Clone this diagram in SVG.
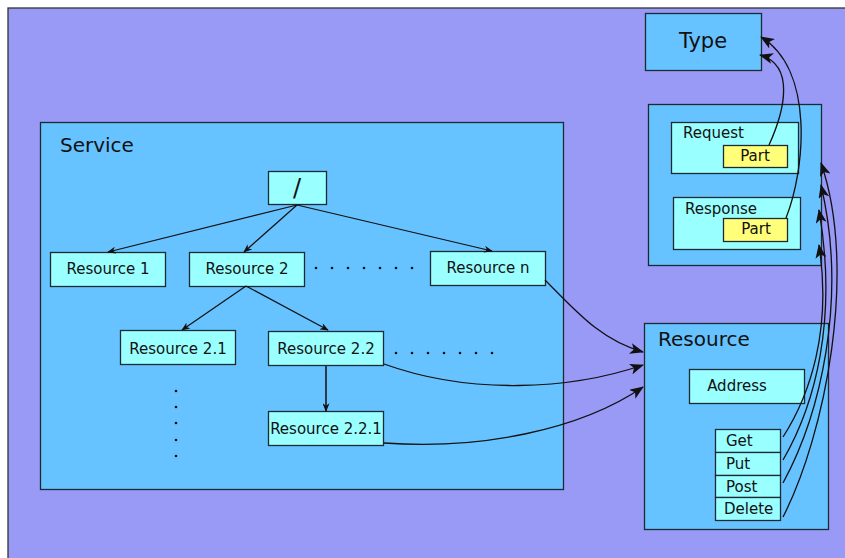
<svg xmlns="http://www.w3.org/2000/svg" width="845" height="558" viewBox="0 0 845 558">
<style>
text{font-family:"DejaVu Sans","Liberation Sans",sans-serif;fill:#111}
.box{stroke:#1e2a33;stroke-width:1.3}
.cy{fill:#99ffff}
.bl{fill:#66c3ff}
.yl{fill:#ffff7a}
.t{font-size:15px}
.big{font-size:20px}
.c{fill:none;stroke:#111;stroke-width:1.3}
.cs{fill:none;stroke:#111;stroke-width:1.2}
.dot{fill:#111}
</style>
<defs>
<marker id="ah" viewBox="0 0 14 11" refX="13" refY="5.5" markerWidth="14" markerHeight="11" markerUnits="userSpaceOnUse" orient="auto">
<path d="M0,0 L14,5.5 L0,11 L3.5,5.5 Z" fill="#111"/>
</marker>
<marker id="sa" viewBox="0 0 10 8" refX="9" refY="4" markerWidth="9" markerHeight="7" markerUnits="userSpaceOnUse" orient="auto">
<path d="M0,0 L10,4 L0,8 L3,4 Z" fill="#111"/>
</marker>
</defs>
<rect x="8" y="8" width="850" height="560" fill="#9999f6" stroke="#333" stroke-width="1.3"/>
<g id="service">
<rect class="box bl" x="40.5" y="122.5" width="523" height="367"/>
<text class="big" x="60" y="152">Service</text>
</g>
<g id="root"><rect class="box cy" x="268.5" y="171.5" width="58" height="33"/><text x="297" y="196" font-size="24" text-anchor="middle">/</text></g>
<g id="r1"><rect class="box cy" x="50.5" y="252.5" width="115" height="34"/><text class="t" x="108" y="274" text-anchor="middle">Resource 1</text></g>
<g id="r2"><rect class="box cy" x="189.5" y="252.5" width="115" height="34"/><text class="t" x="247" y="274" text-anchor="middle">Resource 2</text></g>
<g id="rn"><rect class="box cy" x="430.5" y="251.5" width="115" height="34"/><text class="t" x="488" y="273" text-anchor="middle">Resource n</text></g>
<g id="r21"><rect class="box cy" x="120.5" y="330.5" width="115" height="34"/><text class="t" x="178" y="354" text-anchor="middle">Resource 2.1</text></g>
<g id="r22"><rect class="box cy" x="268.5" y="331.5" width="115" height="34"/><text class="t" x="326" y="354" text-anchor="middle">Resource 2.2</text></g>
<g id="r221"><rect class="box cy" x="268.5" y="411.5" width="115" height="34"/><text class="t" x="326" y="434" text-anchor="middle">Resource 2.2.1</text></g>
<g id="dots">
<circle class="dot" cx="316" cy="268" r="1.3"/><circle class="dot" cx="332" cy="268" r="1.3"/><circle class="dot" cx="348" cy="268" r="1.3"/><circle class="dot" cx="364" cy="268" r="1.3"/><circle class="dot" cx="380" cy="268" r="1.3"/><circle class="dot" cx="396" cy="268" r="1.3"/><circle class="dot" cx="412" cy="268" r="1.3"/>
<circle class="dot" cx="396" cy="353" r="1.3"/><circle class="dot" cx="412" cy="353" r="1.3"/><circle class="dot" cx="428" cy="353" r="1.3"/><circle class="dot" cx="444" cy="353" r="1.3"/><circle class="dot" cx="460" cy="353" r="1.3"/><circle class="dot" cx="476" cy="353" r="1.3"/><circle class="dot" cx="492" cy="353" r="1.3"/>
<circle class="dot" cx="176" cy="391" r="1.3"/><circle class="dot" cx="176" cy="407" r="1.3"/><circle class="dot" cx="176" cy="423" r="1.3"/><circle class="dot" cx="176" cy="440" r="1.3"/><circle class="dot" cx="176" cy="456" r="1.3"/>
</g>
<g id="type"><rect class="box bl" x="645.5" y="13.5" width="116" height="57"/><text x="703" y="48" font-size="21" text-anchor="middle">Type</text></g>
<g id="message">
<rect class="box bl" x="648.5" y="104.5" width="173" height="161"/>
</g>
<g id="request"><rect class="box cy" x="671.5" y="122.5" width="127" height="51"/><text class="t" x="683" y="138">Request</text>
<rect class="box yl" x="723.5" y="145.5" width="64" height="22"/><text class="t" x="755" y="161" text-anchor="middle">Part</text></g>
<g id="response"><rect class="box cy" x="673.5" y="197.5" width="127" height="52"/><text class="t" x="685" y="214">Response</text>
<rect class="box yl" x="723.5" y="218.5" width="64" height="23"/><text class="t" x="756" y="234" text-anchor="middle">Part</text></g>
<g id="resource">
<rect class="box bl" x="644.5" y="323.5" width="184" height="206"/>
<text class="big" x="658" y="346">Resource</text>
</g>
<g id="address"><rect class="box cy" x="689.5" y="369.5" width="115" height="34"/><text class="t" x="737" y="391" text-anchor="middle">Address</text></g>
<g id="methods">
<rect class="box cy" x="715.5" y="429.5" width="65" height="23"/><text class="t" x="726" y="446">Get</text>
<rect class="box cy" x="715.5" y="452.5" width="65" height="23"/><text class="t" x="726" y="469">Put</text>
<rect class="box cy" x="715.5" y="475.5" width="65" height="22"/><text class="t" x="726" y="492">Post</text>
<rect class="box cy" x="715.5" y="497.5" width="65" height="23"/><text class="t" x="724" y="514">Delete</text>
</g>
<g id="connectors">
<path class="cs" d="M297,205 L108,252" marker-end="url(#sa)"/>
<path class="cs" d="M297,205 L244,252" marker-end="url(#sa)"/>
<path class="cs" d="M297,205 L492,251" marker-end="url(#sa)"/>
<path class="cs" d="M246,286 L182,330" marker-end="url(#sa)"/>
<path class="cs" d="M246,286 L328,330" marker-end="url(#sa)"/>
<path d="M326,366 L326,411" fill="none" stroke="#2a3a48" stroke-width="2" marker-end="url(#sa)"/>
<path class="c" d="M545,280 C575,310 600,340 643,352" marker-end="url(#ah)"/>
<path class="c" d="M384,364 C470,395 570,390 643,365" marker-end="url(#ah)"/>
<path class="c" d="M384,443 C480,450 580,430 643,387" marker-end="url(#ah)"/>
<path class="c" d="M769,145 C785,110 795,65 760,55" marker-end="url(#ah)"/>
<path class="c" d="M786,218 C805,170 815,70 761,37" marker-end="url(#ah)"/>
<path class="c" d="M783,437 C810,395 832,330 819,245" marker-end="url(#ah)"/>
<path class="c" d="M783,460 C815,405 838,320 819,210" marker-end="url(#ah)"/>
<path class="c" d="M783,483 C820,415 848,300 821,185" marker-end="url(#ah)"/>
<path class="c" d="M783,517 C825,435 858,270 821,163" marker-end="url(#ah)"/>
</g>
</svg>
